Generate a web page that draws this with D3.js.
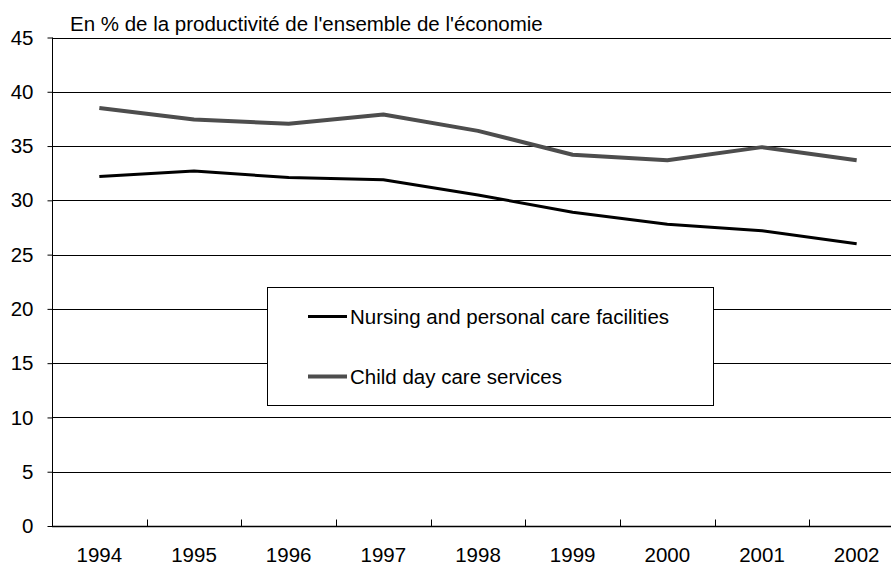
<!DOCTYPE html>
<html>
<head>
<meta charset="utf-8">
<script src="https://cdn.jsdelivr.net/npm/d3@7"></script>
<style>
  html, body { margin: 0; padding: 0; background: #fff; }
  svg { display: block; font-family: "Liberation Sans", Arial, sans-serif; }
</style>
</head>
<body>
<svg id="chart" width="891" height="566"></svg>
<script>
// Relative productivity, in % of economy-wide productivity
const years = ["1994", "1995", "1996", "1997", "1998", "1999", "2000", "2001", "2002"];
const nursing = [32.2, 32.7, 32.1, 31.9, 30.5, 28.9, 27.8, 27.2, 26.0];
const childCare = [38.5, 37.45, 37.05, 37.9, 36.4, 34.2, 33.7, 34.9, 33.7];
const yTicks = [0, 5, 10, 15, 20, 25, 30, 35, 40, 45];
const seriesNames = ["Nursing and personal care facilities", "Child day care services"];
const titleText = "En % de la productivité de l'ensemble de l'économie";

(function () {
  const svg = d3.select("#chart");
  const plotLeft = 52, plotRight = 904, plotTop = 37.5, plotBottom = 526;
  const fontSize = 20.5;

  const x = d3.scaleBand().domain(years).range([plotLeft, plotRight]);
  const y = d3.scaleLinear().domain([0, 45]).range([plotBottom, plotTop]);

  // horizontal gridlines
  svg.append("g")
    .selectAll("line")
    .data(yTicks.filter(d => d > 0))
    .join("line")
    .attr("x1", plotLeft).attr("x2", 891)
    .attr("y1", d => Math.round(y(d)) + 0.5).attr("y2", d => Math.round(y(d)) + 0.5)
    .attr("stroke", "#000").attr("stroke-width", 1);

  // y axis
  const yAxis = svg.append("g")
    .attr("transform", `translate(${plotLeft + 0.5},0)`)
    .call(d3.axisLeft(y).tickValues(yTicks).tickSize(5).tickPadding(14));
  yAxis.attr("font-size", null).attr("font-family", null);
  yAxis.selectAll("text").attr("font-size", fontSize).attr("fill", "#000");
  yAxis.selectAll("line").attr("stroke", "#000");
  yAxis.select(".domain").attr("stroke", "#000").attr("d", `M0,${plotTop}V${plotBottom}`);

  // x axis with ticks between categories
  const xg = svg.append("g").attr("transform", `translate(0,${Math.round(plotBottom) + 0.5})`);
  xg.append("line").attr("x1", plotLeft).attr("x2", 891).attr("stroke", "#000").attr("stroke-width", 1.5);
  xg.selectAll("line.tick")
    .data(years.slice(1))
    .join("line").attr("class", "tick")
    .attr("x1", d => Math.round(x(d)) + 0.5).attr("x2", d => Math.round(x(d)) + 0.5)
    .attr("y1", 0).attr("y2", -7)
    .attr("stroke", "#000");
  xg.selectAll("text")
    .data(years)
    .join("text")
    .attr("x", d => x(d) + x.bandwidth() / 2)
    .attr("y", 35)
    .attr("text-anchor", "middle")
    .attr("font-size", fontSize)
    .attr("fill", "#000")
    .text(d => d);

  // title
  svg.append("text")
    .attr("x", 70).attr("y", 31)
    .attr("font-size", fontSize)
    .attr("fill", "#000")
    .text(titleText);

  // series lines
  const line = d3.line()
    .x((d, i) => x(years[i]) + x.bandwidth() / 2)
    .y(d => y(d));

  svg.append("path").datum(childCare)
    .attr("d", line).attr("fill", "none")
    .attr("stroke", "#4d4d4d").attr("stroke-width", 4).attr("stroke-linejoin", "round");

  svg.append("path").datum(nursing)
    .attr("d", line).attr("fill", "none")
    .attr("stroke", "#000").attr("stroke-width", 3).attr("stroke-linejoin", "round");

  // legend
  const legend = svg.append("g");
  legend.append("rect")
    .attr("x", 267.5).attr("y", 287.5).attr("width", 446).attr("height", 118)
    .attr("fill", "#fff").attr("stroke", "#000").attr("stroke-width", 1);
  const legendItems = [
    { name: seriesNames[0], color: "#000", width: 3, cy: 316.5 },
    { name: seriesNames[1], color: "#4d4d4d", width: 4, cy: 376.5 }
  ];
  legendItems.forEach(it => {
    legend.append("line")
      .attr("x1", 308).attr("x2", 347).attr("y1", it.cy).attr("y2", it.cy)
      .attr("stroke", it.color).attr("stroke-width", it.width);
    legend.append("text")
      .attr("x", 350).attr("y", it.cy + 7.3)
      .attr("font-size", fontSize).attr("fill", "#000")
      .text(it.name);
  });
})();
</script>
</body>
</html>
